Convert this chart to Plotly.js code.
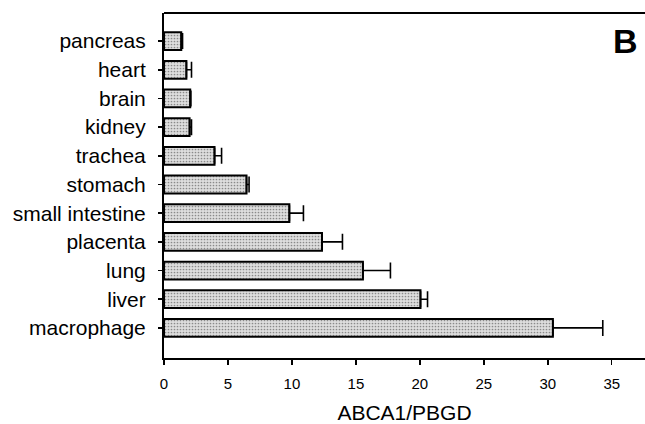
<!DOCTYPE html>
<html>
<head>
<meta charset="utf-8">
<script src="https://cdn.plot.ly/plotly-3.0.1.min.js"></script>
<style>html,body{margin:0;padding:0;background:#fff;}#chart{width:645px;height:424px;}</style>
</head>
<body>
<div id="chart"></div>
<script>
// Tissue expression of ABCA1 normalised to PBGD (bottom to top)
const tissues = ["macrophage", "liver", "lung", "placenta", "small intestine", "stomach",
                 "trachea", "kidney", "brain", "heart", "pancreas"];
const ratio   = [30.4, 20.05, 15.55, 12.35, 9.8, 6.45, 3.95, 2.0, 2.05, 1.75, 1.35];
const errPlus = [3.9, 0.55, 2.15, 1.6, 1.1, 0.2, 0.55, 0.15, 0.05, 0.4, 0.1];
const xTicks  = [0, 5, 10, 15, 20, 25, 30, 35];

const trace = {
  type: "bar",
  orientation: "h",
  y: tissues,
  x: ratio,
  width: 0.62,
  marker: {
    color: "#d4d4d4",
    line: {color: "#000", width: 2},
    pattern: {shape: ".", fgcolor: "#8a8a8a", bgcolor: "#dedede", size: 3, solidity: 0.25}
  },
  error_x: {type: "data", symmetric: false, array: errPlus, arrayminus: ratio.map(() => 0),
            color: "#000", thickness: 1.6, width: 8},
  hoverinfo: "none"
};

const layout = {
  width: 645, height: 424,
  margin: {l: 164, r: 0, t: 13, b: 66},
  paper_bgcolor: "#fff", plot_bgcolor: "#fff",
  showlegend: false,
  font: {family: "Liberation Sans, Arial, sans-serif", color: "#000"},
  xaxis: {
    range: [0, 37.6], tickvals: xTicks, ticktext: xTicks.map(String),
    showgrid: false, zeroline: false,
    showline: true, linecolor: "#000", linewidth: 2, mirror: false,
    ticks: "outside", ticklen: 5, tickwidth: 1.5, tickcolor: "#000",
    ticklabelstandoff: 6,
    tickfont: {size: 15},
    title: {text: "ABCA1/PBGD", font: {size: 21}, standoff: 14}
  },
  yaxis: {
    type: "category", categoryorder: "array", categoryarray: tissues,
    range: [-1.05, 10.98],
    showgrid: false, zeroline: false, mirror: false,
    showline: true, linecolor: "#000", linewidth: 2,
    ticks: "outside", ticklen: 4, tickwidth: 1.5, tickcolor: "#000",
    ticklabelstandoff: 8,
    tickfont: {size: 21}
  },
  // frame line along the top of the plot area only
  shapes: [{
    type: "line", xref: "paper", yref: "paper", x0: 0, x1: 1, y0: 1, y1: 1,
    line: {color: "#000", width: 2}
  }],
  annotations: [{
    text: "<b>B</b>", xref: "paper", yref: "paper", x: 0.9595, y: 0.92,
    xanchor: "center", yanchor: "middle", showarrow: false,
    font: {size: 34, family: "Liberation Sans, Arial, sans-serif"}
  }]
};

Plotly.newPlot("chart", [trace], layout, {staticPlot: true, displayModeBar: false});
</script>
</body>
</html>
